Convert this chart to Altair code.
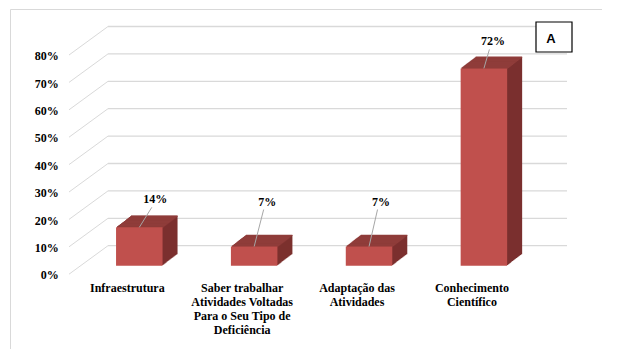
import altair as alt
import pandas as pd

# ---------------- data ----------------
categories = [
    "Infraestrutura",
    "Saber trabalhar\nAtividades Voltadas\nPara o Seu Tipo de\nDeficiência",
    "Adaptação das\nAtividades",
    "Conhecimento\nCientífico",
]
values = [14, 7, 7, 72]
value_labels = ["14%", "7%", "7%", "72%"]
y_ticks = [0, 10, 20, 30, 40, 50, 60, 70, 80]
y_tick_labels = ["0%", "10%", "20%", "30%", "40%", "50%", "60%", "70%", "80%"]
panel_tag = "A"

# ---------------- style ----------------
label_dx = [16, 13, 12, 9]      # manual data-label placement (px)
label_lift = [28, 45, 45, 27]
FRONT = "#C0504D"
TOP = "#8F3C3A"
SIDE = "#7B302E"
GRID = "#D9D9D9"
SERIF = "'Liberation Serif', 'Times New Roman', Times, serif"
BAR_W = 46.5
DEPTH_X, DEPTH_Y, N = 15.0, 11.5, 15
r = DEPTH_Y / N

bars = pd.DataFrame({
    "idx": list(range(len(categories))),
    "category": categories,
    "value": values,
    "base": [0] * len(values),
    "label": value_labels,
})
grid = pd.DataFrame({"tick": y_ticks, "tick_label": y_tick_labels})
tag = pd.DataFrame({"tag": [panel_tag]})

xs = alt.Scale(domain=[0, 3], range=[129.3, 473.9], nice=False, zero=False, padding=0)
ys = alt.Scale(domain=[0, 100], range=[256.7, -17.3], nice=False, zero=False, padding=0)
X = alt.X("idx:Q", scale=xs, axis=None)
Yv = alt.Y("value:Q", scale=ys, axis=None)
Yb = alt.Y("base:Q", scale=ys, axis=None)
Yt = alt.Y("tick:Q", scale=ys, axis=None)

base_b = alt.Chart(bars)
base_g = alt.Chart(grid)
layers = []

# back wall gridlines
layers.append(base_g.mark_rule(color=GRID, strokeWidth=1.3, yOffset=-20).encode(
    x=alt.value(98), x2=alt.value(557), y=Yt))
# side wall depth lines
layers.append(base_g.mark_rule(color=GRID, strokeWidth=1, yOffset=8.5, y2Offset=-20).encode(
    x=alt.value(59), x2=alt.value(98), y=Yt, y2=alt.Y2("tick")))
# y tick labels
layers.append(base_g.mark_text(align="right", baseline="alphabetic", yOffset=13.7, font=SERIF,
                               fontSize=12, fontWeight="bold", color="#000000").encode(
    x=alt.value(48.7), y=Yt, text="tick_label:N"))

# extrusion (side) copies
for k in range(N, 0, -1):
    layers.append(base_b.mark_bar(width=BAR_W, color=SIDE, xOffset=k * DEPTH_X / N,
                                  yOffset=-k * r, y2Offset=-k * r).encode(
        x=X, y=Yv, y2=alt.Y2("base")))
# top face strips
for k in range(1, N + 1):
    layers.append(base_b.mark_bar(width=BAR_W, color=TOP, xOffset=k * DEPTH_X / N,
                                  yOffset=-k * r - 0.3, y2Offset=-(k - 1) * r + 0.3).encode(
        x=X, y=Yv, y2=alt.Y2("value")))
# front face
layers.append(base_b.mark_bar(width=BAR_W, color=FRONT).encode(x=X, y=Yv, y2=alt.Y2("base")))

# category labels
layers.append(base_b.mark_text(align="center", baseline="alphabetic", lineBreak="\n", lineHeight=14,
                               font=SERIF, fontSize=12, fontWeight="bold", color="#000000",
                               xOffset=-12, yOffset=26.3).encode(
    x=X, y=Yb, text="category:N"))

# value labels with leader lines
for i in range(len(values)):
    sel = base_b.transform_filter(alt.datum.idx == i)
    layers.append(sel.mark_rule(color="#A6A6A6", strokeWidth=1, xOffset=label_dx[i] - 3.5,
                                yOffset=-(label_lift[i] - 8), x2Offset=0, y2Offset=0).encode(
        x=X, x2=alt.X2("idx"), y=Yv, y2=alt.Y2("value")))
    layers.append(sel.mark_text(font=SERIF, fontSize=12, fontWeight="bold", baseline="middle",
                                color="#000000", xOffset=label_dx[i], yOffset=-label_lift[i]).encode(
        x=X, y=Yv, text="label:N"))

# panel tag box
layers.append(alt.Chart(tag).mark_rect(fill="white", stroke="black", strokeWidth=1.2).encode(
    x=alt.value(526), x2=alt.value(562), y=alt.value(13), y2=alt.value(43)))
layers.append(alt.Chart(tag).mark_text(font="Liberation Sans", fontSize=13, fontWeight="bold",
                                       baseline="alphabetic", color="#000000").encode(
    x=alt.value(541), y=alt.value(34.3), text="tag:N"))

chart = alt.layer(*layers).properties(
    width=592, height=340,
    padding={"left": 2, "top": 1, "right": 0, "bottom": 0},
    autosize=alt.AutoSizeParams(type="none"),
    background="white",
).configure_view(stroke=GRID, strokeWidth=1)

chart.save("out.html", embed_options={"renderer": "svg", "actions": False})
